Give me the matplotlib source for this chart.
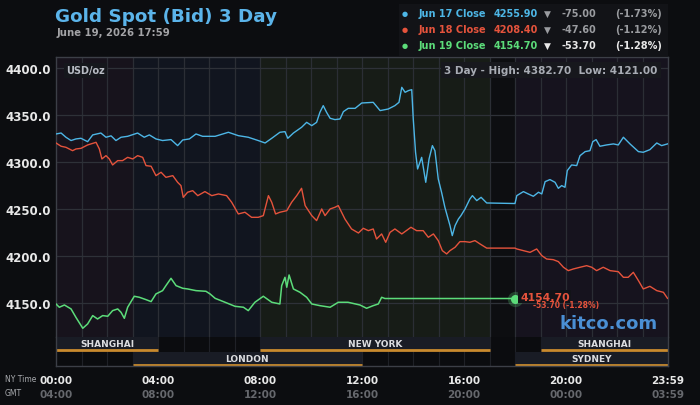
import matplotlib
matplotlib.use("Agg")
import matplotlib.pyplot as plt
import matplotlib.transforms as mtrans

# ---------------- data ----------------
# Jun 17 (blue): hours (NY time) and price
blue_t = [0, .2, .39, .59, .78, .98, 1.24, 1.44, 1.76, 1.96, 2.16, 2.35, 2.55, 2.81, 3.2, 3.46, 3.66, 3.92,
          4.18, 4.51, 4.77, 4.97, 5.23, 5.49, 5.75, 6.24, 6.76, 7.15, 7.54, 7.93, 8.2, 8.46, 8.78, 8.98, 9.09,
          9.31, 9.63, 9.83, 10.03, 10.22, 10.35, 10.48, 10.61, 10.75, 10.94, 11.14, 11.27, 11.46, 11.73, 11.99,
          12.44, 12.71, 13.03, 13.29, 13.45, 13.56, 13.69, 13.82, 13.95, 14.01, 14.1, 14.18, 14.34, 14.5, 14.63,
          14.76, 14.86, 14.99, 15.12, 15.25, 15.45, 15.54, 15.65, 15.78, 15.88, 16.04, 16.23, 16.33, 16.5, 16.67,
          16.89, 18.0, 18.07, 18.33, 18.52, 18.72, 18.92, 19.05, 19.18, 19.37, 19.57, 19.7, 19.83, 19.96, 20.05,
          20.22, 20.42, 20.55, 20.75, 20.94, 21.05, 21.18, 21.33, 21.59, 21.86, 22.05, 22.25, 22.51, 22.84, 23.03,
          23.29, 23.56, 23.75, 23.98]
blue_p = [4330.0, 4331, 4326.5, 4323, 4324.7, 4325.4, 4321.8, 4329, 4331, 4326.5, 4328, 4323, 4326.5, 4327.5,
          4331, 4326.5, 4329, 4324.7, 4323, 4324, 4317.6, 4323.6, 4324.7, 4330, 4327.5, 4327.5, 4331.8, 4328.2,
          4326.5, 4323, 4320.4, 4325.4, 4331.8, 4332.5, 4325.4, 4331, 4337.1, 4342.4, 4338.9, 4342.4, 4353.1,
          4360.2, 4353.1, 4346.7, 4345.3, 4346, 4353.8, 4357.3, 4357.3, 4363, 4363.7, 4354.9, 4356.6, 4360.2,
          4363.7, 4379.7, 4374.4, 4376.2, 4377.2, 4346, 4310.5, 4292.7, 4305.1, 4278.5, 4303.4, 4317.6, 4312.2,
          4282.1, 4267.9, 4251.9, 4232.4, 4221.7, 4232.4, 4239.4, 4243, 4250.1, 4260.7, 4264.3, 4259, 4262.5,
          4256.5, 4255.9, 4264.3, 4268.6, 4266.1, 4263.6, 4267.9, 4266.1, 4279.2, 4281.4, 4278.5, 4272.1, 4275,
          4273.2, 4291, 4297, 4296.3, 4306.9, 4311.2, 4312.2, 4321.8, 4324, 4316.9, 4318.3, 4319.4, 4318.3,
          4326.5, 4319.4, 4311.2, 4310.5, 4313.3, 4320.4, 4317.6, 4319.4]

# Jun 18 (red)
red_t = [0, .2, .39, .65, .78, .98, 1.24, 1.57, 1.7, 1.8, 1.96, 2.09, 2.22, 2.42, 2.61, 2.81, 3.01, 3.2, 3.4,
         3.53, 3.73, 3.92, 4.12, 4.31, 4.58, 4.77, 4.9, 4.99, 5.16, 5.36, 5.56, 5.84, 6.11, 6.37, 6.69, 6.89,
         7.15, 7.41, 7.67, 7.93, 8.13, 8.33, 8.46, 8.61, 8.78, 9.05, 9.24, 9.44, 9.63, 9.77, 10.03, 10.22, 10.42,
         10.55, 10.75, 10.94, 11.07, 11.33, 11.59, 11.86, 12.05, 12.25, 12.44, 12.57, 12.77, 12.93, 13.1, 13.29,
         13.56, 13.92, 14.14, 14.4, 14.6, 14.8, 14.99, 15.15, 15.32, 15.45, 15.65, 15.84, 16.04, 16.23, 16.43,
         16.63, 16.89, 18.0, 18.07, 18.33, 18.59, 18.85, 19.05, 19.24, 19.5, 19.7, 19.9, 20.09, 20.29, 20.55,
         20.81, 21.01, 21.2, 21.46, 21.73, 22.05, 22.25, 22.44, 22.64, 22.84, 23.03, 23.29, 23.56, 23.82, 23.98]
red_p = [4320.4, 4316.9, 4315.8, 4312.2, 4314, 4314.7, 4318.3, 4321.1, 4314, 4303.4, 4306.9, 4303.4, 4297,
         4301.6, 4301.6, 4305.1, 4303.4, 4306.9, 4305.1, 4296.3, 4295.6, 4285.6, 4289.2, 4283.8, 4285.6, 4278.5,
         4275, 4262.5, 4267.9, 4269.6, 4264.3, 4268.6, 4264.3, 4266.1, 4264.3, 4257.2, 4244.8, 4246.6, 4241.2,
         4241.2, 4243, 4264.3, 4257.2, 4244.8, 4246.6, 4248.3, 4257.2, 4264.3, 4272.1, 4253.7, 4243, 4237.7,
         4250.1, 4243, 4250.1, 4251.9, 4253.7, 4239.4, 4228.8, 4224.5, 4229.5, 4227, 4228.8, 4218.1, 4223.5,
         4214.6, 4225.2, 4228.8, 4223.5, 4230.6, 4227, 4227, 4219.9, 4223.5, 4216.4, 4205.7, 4202.2, 4205.7,
         4209.3, 4215.3, 4215.3, 4214.6, 4216.4, 4212.8, 4208.4, 4208.4, 4207.5, 4205.7, 4203.9, 4207.5, 4200.4,
         4196.8, 4196.1, 4194, 4188, 4184.4, 4186.2, 4188, 4189.7, 4188, 4184.4, 4188, 4184.4, 4183.3, 4177.3,
         4177.3, 4182.6, 4173.8, 4164.9, 4167.7, 4163.1, 4161.3, 4154.9]

# Jun 19 (green)
green_t = [0, .13, .33, .59, .78, 1.05, 1.24, 1.44, 1.63, 1.83, 2.03, 2.22, 2.42, 2.55, 2.68, 2.81, 3.07, 3.27,
           3.53, 3.73, 3.92, 4.18, 4.31, 4.51, 4.71, 4.97, 5.16, 5.49, 5.88, 6.04, 6.24, 6.63, 7.02, 7.35, 7.54,
           7.8, 8.13, 8.46, 8.78, 8.85, 8.98, 9.05, 9.14, 9.31, 9.57, 9.83, 10.03, 10.35, 10.75, 11.07, 11.45,
           11.92, 12.18, 12.44, 12.64, 12.77, 12.9, 18.0]
green_p = [4148.9, 4145.4, 4147.8, 4143.6, 4134.7, 4123, 4127.6, 4136.5, 4132.9, 4136.5, 4135.8, 4141.8, 4143.6,
           4140, 4133.6, 4145.4, 4157.1, 4156, 4153.5, 4151.4, 4159.6, 4163.1, 4168.4, 4176.2, 4168.4, 4165.6,
           4164.9, 4163.1, 4162.4, 4159.6, 4154.9, 4150.7, 4146.4, 4145.4, 4141.8, 4150.7, 4157.1, 4150.7, 4148.9,
           4168.4, 4177.3, 4166.7, 4179.8, 4164.9, 4161.3, 4156, 4148.9, 4147.1, 4145.4, 4150.7, 4150.7, 4147.8,
           4144.3, 4147.1, 4148.9, 4156, 4154.7, 4154.7]

y_ticks = [4150, 4200, 4250, 4300, 4350, 4400]
ny_labels = ["00:00", "04:00", "08:00", "12:00", "16:00", "20:00", "23:59"]
gmt_labels = ["04:00", "08:00", "12:00", "16:00", "20:00", "00:00", "03:59"]
tick_hours = [0, 4, 8, 12, 16, 20, 24]

# background market regions (start, end, colour)
regions = [(0, 3, "#17131c"), (3, 8, "#11151f"), (8, 17, "#171c17"), (17, 18, "#0d0e11"), (18, 24, "#16131e")]
# sessions: name, start, end, row (1 = upper, 0 = lower)
sessions = [("SHANGHAI", 0, 4, 1), ("NEW YORK", 8, 17, 1), ("SHANGHAI", 19, 24, 1),
            ("LONDON", 3, 12, 0), ("SYDNEY", 18, 24, 0)]

legend_rows = [("Jun 17 Close", "4255.90", "-75.00", "(-1.73%)"),
               ("Jun 18 Close", "4208.40", "-47.60", "(-1.12%)"),
               ("Jun 19 Close", "4154.70", "-53.70", "(-1.28%)")]

BLUE, RED, GREEN = "#4db6e6", "#e5533c", "#5cdc7a"
BG = "#0c0d10"
W, H = 700, 406

fig = plt.figure(figsize=(7, 4.06), dpi=100, facecolor=BG)

def fx(x):
    return x / W

def fy(y):
    return 1 - y / H

ax = fig.add_axes([fx(56), fy(338), (668 - 56) / W, (338 - 58) / H])
axs = fig.add_axes([fx(56), fy(367), (668 - 56) / W, (367 - 338) / H])

ax.set_facecolor(BG)
for s, e, c in regions:
    ax.axvspan(s, e, color=c, zorder=0, lw=0)
ax.set_xlim(0, 24)
ax.set_ylim(4113.7, 4412.0)
for h in range(1, 24):
    ax.axvline(h, color="#2b2e35", lw=0.9, zorder=1)
for v in y_ticks:
    ax.axhline(v, color="#2e3138", lw=0.9, zorder=1)

ax.plot(blue_t, blue_p, color=BLUE, lw=1.0, zorder=3)
ax.plot(red_t, red_p, color=RED, lw=1.0, zorder=3)
ax.plot(green_t, green_p, color=GREEN, lw=1.1, zorder=3)
ax.plot([green_t[-1]], [green_p[-1]], "o", ms=11, color=GREEN, alpha=0.25, zorder=4, mec="none")
ax.plot([green_t[-1]], [green_p[-1]], "o", ms=6.5, color=GREEN, zorder=5, mec="none")

ax.set_xticks([])
ax.set_yticks(y_ticks)
ax.set_yticklabels([f"{v:.1f}" for v in y_ticks], color="#e8e8e8", fontsize=8.5, fontweight="bold")
ax.tick_params(axis="y", length=0, pad=4)
for sp in ax.spines.values():
    sp.set_color("#3c3f47")
    sp.set_linewidth(1)
ax.spines["bottom"].set_visible(False)

ax.text(0.4, 4398, "USD/oz", color="#b8bcc4", fontsize=7, fontweight="bold", va="center", ha="left", zorder=6,
        bbox=dict(boxstyle="square,pad=0.25", fc="#15171c", ec="none"))
ax.text(23.6, 4398, "3 Day - High: 4382.70  Low: 4121.00", color="#a8acb4", fontsize=7.5, fontweight="bold",
        va="center", ha="right", zorder=6, bbox=dict(boxstyle="square,pad=0.3", fc="#17181d", ec="none"))
ax.text(18.2, 4156.5, "4154.70", color=RED, fontsize=7.8, fontweight="bold", va="center", ha="left", zorder=6,
        bbox=dict(boxstyle="square,pad=0.15", fc="#121318", ec="none"))
ax.text(18.7, 4147.8, "-53.70 (-1.28%)", color=RED, fontsize=5.5, fontweight="bold", va="center", ha="left",
        zorder=6)
ax.text(23.6, 4129, "kitco.com", color="#4a8fd4", fontsize=13, fontweight="bold", va="center", ha="right",
        zorder=6)

# session bars
axs.set_facecolor("#0b0c0f")
axs.set_xlim(0, 24)
axs.set_ylim(0, 2)
for h in range(1, 24):
    axs.axvline(h, color="#1f2127", lw=0.8, zorder=0)
for name, s, e, row in sessions:
    y0 = row * 1.0 + 0.02
    axs.fill_between([s, e], y0, y0 + 0.96, color="#191c25", lw=0, zorder=1)
    axs.hlines(y0 + 0.08, s, e, color="#c98a2e", lw=2, zorder=2)
    axs.text((s + e) / 2, y0 + 0.5, name, color="#dcdde0", fontsize=6.5, fontweight="bold",
             ha="center", va="center", zorder=3)
axs.set_xticks([])
axs.set_yticks([])
for sp in axs.spines.values():
    sp.set_color("#3c3f47")
    sp.set_linewidth(1)
axs.spines["top"].set_visible(False)

# x labels
tr = mtrans.blended_transform_factory(axs.transData, fig.transFigure)
for h, a, b in zip(tick_hours, ny_labels, gmt_labels):
    fig.text(h, fy(381), a, transform=tr, color="#e8e8e8", fontsize=7.5, fontweight="bold", ha="center",
             va="center")
    fig.text(h, fy(395), b, transform=tr, color="#66686d", fontsize=7.5, fontweight="bold", ha="center",
             va="center")
fig.text(fx(5), fy(380), "NY Time", color="#a8aaae", fontsize=5.5, ha="left", va="center")
fig.text(fx(5), fy(394), "GMT", color="#a8aaae", fontsize=5.5, ha="left", va="center")

# title
fig.text(fx(55), fy(17), "Gold Spot (Bid) 3 Day", color="#5bb4ea", fontsize=13.2, fontweight="bold",
         ha="left", va="center")
fig.text(fx(56), fy(33), "June 19, 2026 17:59", color="#a3a3a6", fontsize=7.3, fontweight="bold",
         ha="left", va="center")

# legend box
fig.patches.append(plt.Rectangle((fx(399), fy(57)), (668 - 399) / W, (57 - 5) / H, transform=fig.transFigure,
                                 fc="#121317", ec="none", zorder=0))
colors = [BLUE, RED, GREEN]
for i, (lab, val, chg, pct) in enumerate(legend_rows):
    y = fy(14 + i * 16)
    c = colors[i]
    cc = "#e8e8e8" if i == 2 else "#9a9ca0"
    fig.text(fx(405), y, "●", color=c, fontsize=5, ha="center", va="center")
    fig.text(fx(419), y, lab, color=c, fontsize=7, fontweight="bold", ha="left", va="center")
    fig.text(fx(494), y, val, color=c, fontsize=7, fontweight="bold", ha="left", va="center")
    fig.text(fx(547), y, "▼", color=cc, fontsize=6.5, ha="center", va="center")
    fig.text(fx(562), y, chg, color=cc, fontsize=7, fontweight="bold", ha="left", va="center")
    fig.text(fx(662), y, pct, color=cc, fontsize=7, fontweight="bold", ha="right", va="center")

fig.savefig("out.png", dpi=100, facecolor=BG)
